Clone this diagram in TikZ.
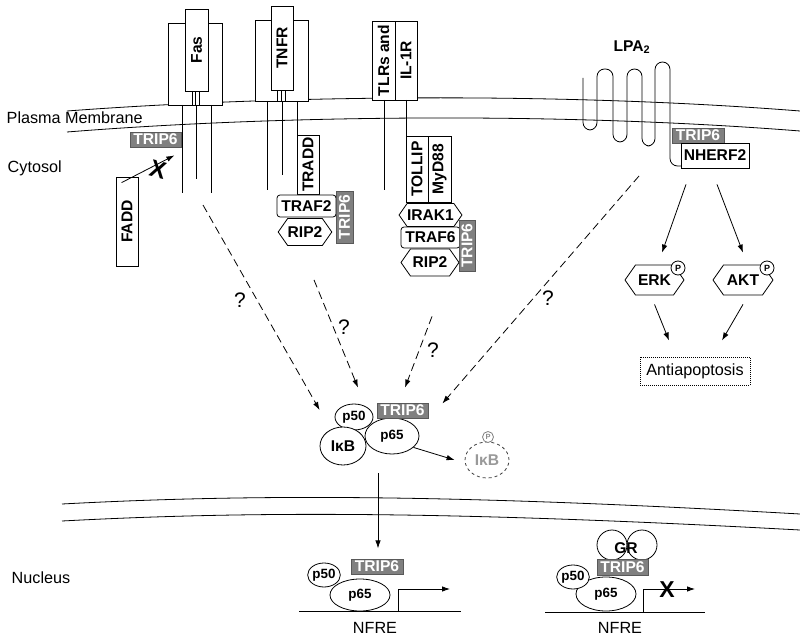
\documentclass[tikz,border=0pt]{standalone}
\usepackage{fontspec}
\setmainfont{Liberation Sans}
\usetikzlibrary{shapes.geometric,shapes.symbols,arrows.meta}

\tikzset{
  >={Latex[length=8pt,width=5.5pt]},
  lbl/.style={font=\fontsize{16.2}{18}\selectfont},
  prot/.style={draw, fill=white, inner sep=0pt, font=\bfseries\fontsize{15.6}{17}\selectfont},
  vprot/.style={prot, rotate=90},
  trip/.style={draw=black!65, fill=black!50, text=white, inner sep=0pt, font=\bfseries\fontsize{15.6}{17}\selectfont},
  vtrip/.style={trip, rotate=90},
  hexa/.style={prot, shape=signal, signal to=west and east, signal pointer angle=110},
  traf/.style={prot, rounded corners=3pt},
  blob/.style={draw, fill=white, ellipse, inner sep=0pt, font=\bfseries\fontsize{13.4}{15}\selectfont},
  phos/.style={draw, fill=white, circle, inner sep=0pt, minimum size=14pt, font=\bfseries\fontsize{9}{10}\selectfont},
  qmark/.style={font=\fontsize{21}{22}\selectfont},
  dashpath/.style={->, dash pattern=on 8pt off 4.5pt},
}

\begin{document}
\begin{tikzpicture}[x=1pt,y=-1pt,line width=0.8pt]
  \useasboundingbox (0,0) rectangle (800,639);

  % membranes
  \draw (67,111) .. controls (280,95) and (560,92) .. (800,111);
  \draw (67,132) .. controls (280,115) and (560,112) .. (800,131);
  \draw (62,504) .. controls (250,494) and (450,494) .. (800,514);
  \draw (62,521) .. controls (250,511) and (450,511) .. (800,530);
  \node[lbl,anchor=west] (pm) at (3,118) {Plasma Membrane};
  \node[lbl,anchor=west] (cyto) at (4,168) {Cytosol};
  \node[lbl,anchor=west] (nuc) at (8,578) {Nucleus};

  % Fas
  \draw[fill=white] (168,23) rectangle (222,105);
  \foreach \x in {192,195.5,199} \draw (\x,91) -- (\x,105);
  \node[vprot,minimum width=82,minimum height=23] (fas) at (196.5,50) {Fas};
  \draw (182,105) -- (182,193);
  \draw (196,105) -- (196,179);
  \draw (211,105) -- (211,193);
  \node[trip,minimum width=51,minimum height=15] (tripFas) at (155.5,139.5) {TRIP6};
  \node[vprot,minimum width=89,minimum height=22] (fadd) at (127,221.5) {FADD};
  \draw[->] ([shift={(6,6)}]fadd.north east) -- ([shift={(-7,8)}]tripFas.south east);
  \node[font=\bfseries\fontsize{24}{24}\selectfont,rotate=-15] (block) at (158,170) {X};

  % TNFR
  \draw[fill=white] (255,20) rectangle (308,101);
  \foreach \x in {277,281,285} \draw (\x,90) -- (\x,101);
  \node[vprot,minimum width=84,minimum height=22] (tnfr) at (282,48) {TNFR};
  \draw (267,101) -- (267,190);
  \draw (282,101) -- (282,175);
  \draw (297,101) -- (297,135);
  \node[vprot,minimum width=59,minimum height=22] (tradd) at (308,164.5) {TRADD};
  \node[traf,minimum width=59,minimum height=22] (traf2) at (306.5,206) {TRAF2};
  \node[hexa,minimum width=52,minimum height=27] (ripA) at (305,232) {RIP2};
  \node[vtrip,minimum width=52,minimum height=17] (tripTraf2) at (344.5,217) {TRIP6};

  % TLRs and IL-1R
  \node[vprot,minimum width=79,minimum height=23] (tlr) at (383.5,60.5) {TLRs and};
  \node[vprot,minimum width=79,minimum height=22] (il1r) at (406,60.5) {IL-1R};
  \draw (384,100) -- (384,190);
  \draw (406,100) -- (406,136);
  \node[vprot,minimum width=66,minimum height=22] (tollip) at (417,169) {TOLLIP};
  \node[vprot,minimum width=66,minimum height=23] (myd88) at (439.5,169) {MyD88};
  \node[hexa,minimum width=58,minimum height=23] (irak1) at (430.5,215) {IRAK1};
  \node[traf,minimum width=59,minimum height=21] (traf6) at (430.5,237.5) {TRAF6};
  \node[hexa,minimum width=58,minimum height=27] (ripB) at (430,262.5) {RIP2};
  \node[vtrip,minimum width=51,minimum height=16] (tripTraf6) at (467,245.5) {TRIP6};

  % LPA2
  \draw[rounded corners=7.5pt] (583,78) -- (583,130) -- (597,130) -- (597,69) -- (613,69)
    -- (613,142) -- (627,142) -- (627,69) -- (642,69) -- (642,146) -- (655,146)
    -- (655,62) -- (670,62) -- (670,166) -- (683,166);
  \node[font=\bfseries\fontsize{15.6}{17}\selectfont] (lpa) at (632,47) {LPA\textsubscript{2}};
  \node[trip,minimum width=52,minimum height=15] (tripNherf) at (698,135.5) {TRIP6};
  \node[prot,minimum width=68,minimum height=25] (nherf) at (715,155.5) {NHERF2};
  \node[hexa,minimum width=59,minimum height=30] (erk) at (654.5,280) {ERK};
  \node[hexa,minimum width=60,minimum height=30] (akt) at (743,280) {AKT};
  \node[phos] (pErk) at (678,268) {P};
  \node[phos] (pAkt) at (767,268) {P};
  \node[draw,densely dotted,line width=1pt,lbl,minimum width=110,minimum height=28] (anti) at (695,371) {Antiapoptosis};
  \draw[->] ([shift={(-29,16)}]nherf.south) -- ([shift={(7.5,-12)}]erk.north);
  \draw[->] ([shift={(2,16)}]nherf.south) -- ([shift={(0,-12)}]akt.north);
  \draw[->] ([shift={(0,9)}]erk.south) -- ([shift={(-26,-16)}]anti.north);
  \draw[->] ([shift={(0,9)}]akt.south) -- ([shift={(27,-16)}]anti.north);

  % NF-kB complex in cytosol
  \node[blob,minimum width=54,minimum height=36] (cp65) at (392,436) {p65};
  \node[blob,minimum width=38,minimum height=26] (cp50) at (354,417) {p50};
  \node[trip,minimum width=51,minimum height=15] (ctrip) at (402.5,410.5) {TRIP6};
  \node[blob,minimum width=46,minimum height=38,font=\bfseries\fontsize{15.6}{17}\selectfont] (cikb) at (343,446) {IκB};
  \node[blob,dashed,draw=black!75,text=black!40,minimum width=44,minimum height=36,font=\bfseries\fontsize{15.6}{17}\selectfont] (pikb) at (487,460) {IκB};
  \node[phos,draw=black!50,text=black!45,minimum size=11pt,font=\bfseries\fontsize{7.5}{8}\selectfont] (pP) at (488,437) {P};
  \draw[->] (cp65.-28) -- ([xshift=-10pt]pikb.west);
  \draw[->] ([shift={(-14,19)}]cp65.south) -- ++(0,75);

  % dashed inputs
  \coordinate (fasTail) at (203,205);
  \coordinate (lpaTail) at (639,176);
  \draw[dashpath] (fasTail) -- ([shift={(-15,-7)}]cp50.west);
  \draw[dashpath] ([shift={(9,34)}]ripA.south) -- ([shift={(4,-16)}]cp50.north);
  \draw[dashpath] ([shift={(2,40)}]ripB.south) -- ([shift={(2.5,-15)}]ctrip.north);
  \draw[dashpath] (lpaTail) -- ([shift={(14,-7)}]ctrip.east);
  \node[qmark] (q1) at (240,300) {?};
  \node[qmark] (q2) at (344,327) {?};
  \node[qmark] (q3) at (433,350) {?};
  \node[qmark] (q4) at (548,298) {?};

  % nucleus, left
  \draw (299,611) -- (461,611);
  \node[blob,minimum width=60,minimum height=32] (np65a) at (360,595) {p65};
  \node[blob,minimum width=30,minimum height=24] (np50a) at (324,575) {p50};
  \node[trip,minimum width=52,minimum height=15] (ntripa) at (377,566.5) {TRIP6};
  \draw[->] (398,611) |- (450,589);
  \node[lbl] (nfreA) at (375,628) {NFRE};

  % nucleus, right
  \draw (545,612) -- (705,612);
  \draw (612,545) circle (15);
  \draw (642,545) circle (15);
  \node[font=\bfseries\fontsize{15.6}{17}\selectfont] (gr) at (626,548) {GR};
  \node[blob,minimum width=60,minimum height=34] (np65b) at (606,594) {p65};
  \node[blob,minimum width=30,minimum height=24] (np50b) at (573,577) {p50};
  \node[trip,minimum width=51,minimum height=16] (ntripb) at (622.5,567) {TRIP6};
  \draw[->] (643,612) |- (695,589);
  \node[font=\bfseries\fontsize{23}{23}\selectfont] (stop) at (667,590) {X};
  \node[lbl] (nfreB) at (620,628) {NFRE};
\end{tikzpicture}
\end{document}
